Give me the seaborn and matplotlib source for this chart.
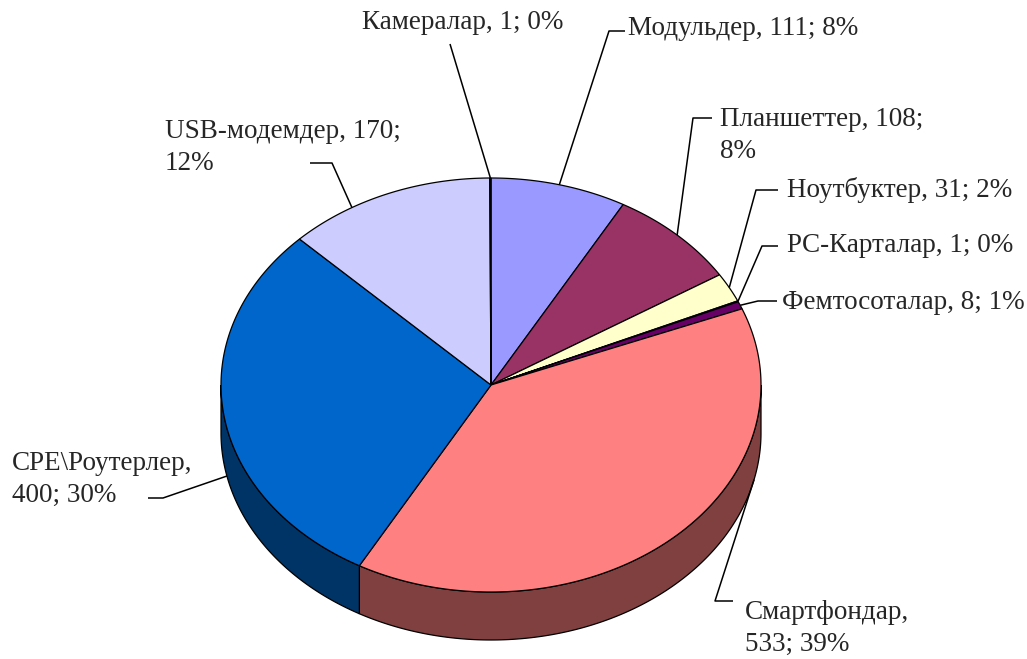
import numpy as np
import matplotlib
matplotlib.use("Agg")
import matplotlib.pyplot as plt
import seaborn as sns
from matplotlib.patches import Polygon

# Device shipments by type (pieces and share of total)
categories = ["Модульдер", "Планшеттер", "Ноутбуктер", "PC-Карталар",
              "Фемтосоталар", "Смартфондар", "CPE\\Роутерлер",
              "USB-модемдер", "Камералар"]
values = [111, 108, 31, 1, 8, 533, 400, 170, 1]
percents = [8, 8, 2, 0, 1, 39, 30, 12, 0]
# where each label wraps: 0 = one line, 1 = after the name, 2 = after the value
label_wrap = [0, 2, 0, 0, 0, 1, 1, 2, 0]

colors = sns.color_palette(["#9999FF", "#993366", "#FFFFCC", "#CCFFFF",
                            "#660066", "#FF8080", "#0066CC", "#CCCCFF",
                            "#000080"])

sns.set_theme(style="white")
plt.rcParams["font.family"] = ["Liberation Serif", "DejaVu Serif"]

W, H = 1027, 659
fig = plt.figure(figsize=(W / 100, H / 100), dpi=100)
ax = fig.add_axes([0, 0, 1, 1])
ax.set_xlim(0, W)
ax.set_ylim(H, 0)
ax.axis("off")

# pie geometry in pixel space
cx, cy, a, b, depth = 491, 385, 270, 207, 48


def rim(theta, down=0.0):
    t = np.radians(theta)
    return cx + a * np.sin(t), cy - b * np.cos(t) + depth * down


def shade(c, f=0.5):
    return tuple(ch * f for ch in c)


total = sum(values)
edges = np.concatenate([[0], np.cumsum(values)]) / total * 360.0

# side walls (only the front half, 90..270 degrees clockwise from top)
for i in range(len(values)):
    t1, t2 = max(edges[i], 90), min(edges[i + 1], 270)
    if t1 >= t2:
        continue
    arc = np.linspace(t1, t2, 200)
    xt, yt = rim(arc)
    xb, yb = rim(arc[::-1], 1.0)
    pts = np.column_stack([np.concatenate([xt, xb]), np.concatenate([yt, yb])])
    ax.add_patch(Polygon(pts, closed=True, facecolor=shade(colors[i]),
                         edgecolor="black", lw=0.9, zorder=1))

# top faces
for i in range(len(values)):
    arc = np.linspace(edges[i], edges[i + 1], max(4, int(edges[i + 1] - edges[i]) * 3))
    xs, ys = rim(arc)
    pts = np.vstack([[cx, cy], np.column_stack([xs, ys])])
    ax.add_patch(Polygon(pts, closed=True, facecolor=colors[i],
                         edgecolor="black", lw=0.9, zorder=2))

# label layout: text top-left, leader elbow, leader end, anchor override
layout = {
    "Модульдер":      dict(xy=(628, 16), elbow=(609, 31), end=(625, 31)),
    "Планшеттер":     dict(xy=(720, 107), elbow=(693, 118), end=(712, 118)),
    "Ноутбуктер":     dict(xy=(787, 177), elbow=(756, 190), end=(778, 190)),
    "PC-Карталар":    dict(xy=(787, 233), elbow=(762, 246), end=(778, 246)),
    "Фемтосоталар":   dict(xy=(782, 290), elbow=(758, 301), end=(777, 301)),
    "Смартфондар":    dict(xy=(745, 600), elbow=(715, 601), end=(733, 601),
                           anchor=(103, 1.0)),
    "CPE\\Роутерлер": dict(xy=(12, 451), elbow=(163, 498), end=(148, 498),
                           anchor=(258, 1.0)),
    "USB-модемдер":   dict(xy=(165, 119), elbow=(332, 163), end=(310, 163),
                           anchor=(329, 0.0)),
    "Камералар":      dict(xy=(362, 10), elbow=(450, 44), end=(450, 44)),
}

for i, cat in enumerate(categories):
    v, p = values[i], percents[i]
    if label_wrap[i] == 1:
        txt = f"{cat},\n{v}; {p}%"
    elif label_wrap[i] == 2:
        txt = f"{cat}, {v};\n{p}%"
    else:
        txt = f"{cat}, {v}; {p}%"
    lay = layout[cat]
    ang, down = lay.get("anchor", ((edges[i] + edges[i + 1]) / 2, 0.0))
    ax0, ay0 = rim(ang, down)
    ex, ey = lay["elbow"]
    fx, fy = lay["end"]
    ax.plot([ax0, ex, fx], [ay0, ey, fy], color="black", lw=1.1,
            solid_capstyle="butt", zorder=3)
    ax.text(lay["xy"][0], lay["xy"][1], txt, ha="left", va="top",
            fontsize=19.5, color="#262626", linespacing=1.35, zorder=4)

fig.savefig("out.png", dpi=100, facecolor="white")
